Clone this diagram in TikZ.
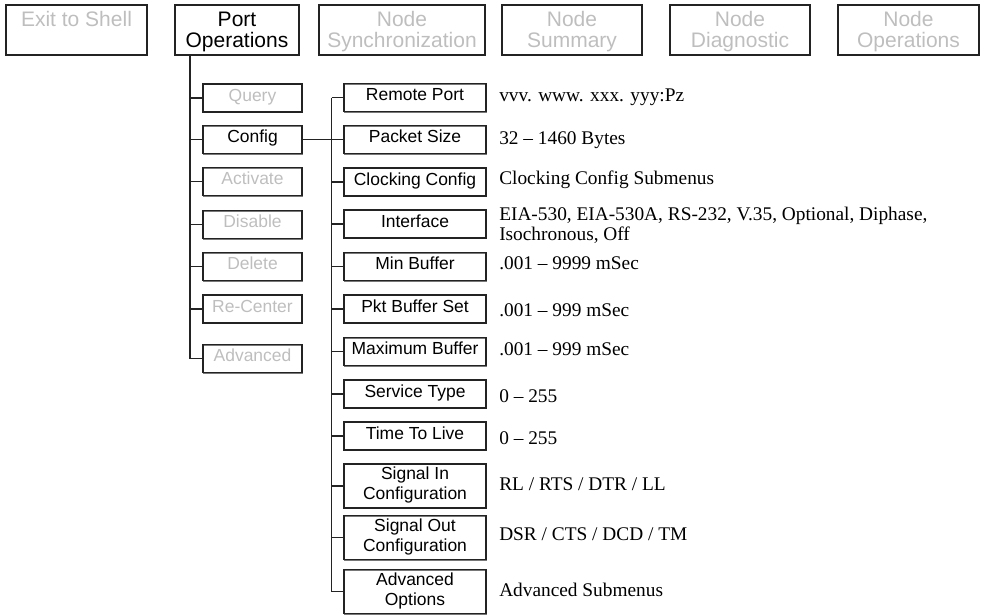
\documentclass[tikz,border=0pt]{standalone}
\usepackage{fontspec}
\setmainfont{Liberation Serif}
\setsansfont{Liberation Sans}
\definecolor{greytext}{RGB}{190,190,190}
\definecolor{boxline}{RGB}{35,35,35}
\definecolor{boxshade}{RGB}{120,120,120}
\begin{document}
\begin{tikzpicture}[x=0.75pt,y=-0.75pt,
  box/.style={draw=boxline, line width=0.9pt, inner sep=0pt, align=center,
    preaction={draw=boxshade, line width=0.9pt, transform canvas={shift={(0.6pt,-0.6pt)}}}},
  topbox/.style={box, font=\sffamily\fontsize{15.75}{15.75}\selectfont, minimum height=37.5pt, text height=27pt, text depth=1.5pt},
  topone/.style={box, font=\sffamily\fontsize{15.75}{15.75}\selectfont, minimum height=37.5pt, text height=11.3pt, text depth=17.25pt},
  subbox/.style={box, font=\sffamily\fontsize{13.1}{15}\selectfont, minimum width=74.25pt, minimum height=21pt, text height=9.4pt, text depth=4.5pt},
  parbox/.style={box, font=\sffamily\fontsize{13.1}{15}\selectfont, minimum width=106.5pt, minimum height=21pt, text height=9.4pt, text depth=4.5pt},
  parboxtwo/.style={box, font=\sffamily\fontsize{13.1}{15}\selectfont, minimum width=106.5pt, minimum height=33pt, text height=24.4pt, text depth=4.1pt},
  desc/.style={inner sep=0pt, anchor=base west, align=left, font=\rmfamily\fontsize{14.5}{15}\selectfont},
  dim/.style={text=greytext},
  conn/.style={draw=boxline, line width=0.8pt}
]
\useasboundingbox (0,0) rectangle (981,614);

% top menu
\node[topone, dim, minimum width=105.75pt] (exit) at (76.5,30) {Exit to Shell};
\node[topbox, minimum width=93pt] (port) at (237,30) {Port\\Operations};
\node[topbox, dim, minimum width=124.5pt] (sync) at (402,30) {Node\\Synchronization};
\node[topbox, dim, minimum width=105pt] (summ) at (572,30) {Node\\Summary};
\node[topbox, dim, minimum width=105pt] (diag) at (740,30) {Node\\Diagnostic};
\node[topbox, dim, minimum width=105.75pt] (nops) at (908.5,30) {Node\\Operations};

% second level
\node[subbox, dim] (query) at (252.5,98) {Query};
\node[subbox] (cfg) at (252.5,139.5) {Config};
\node[subbox, dim] (act) at (252.5,181.5) {Activate};
\node[subbox, dim] (dis) at (252.5,224.5) {Disable};
\node[subbox, dim] (del) at (252.5,266.5) {Delete};
\node[subbox, dim] (rec) at (252.5,309) {Re-Center};
\node[subbox, dim] (adv) at (252.5,358.5) {Advanced};

\coordinate (trunk) at (190,0);
\draw[conn] (trunk |- port.south) |- (adv.west);
\foreach \n in {query,cfg,act,dis,del,rec}
  \draw[conn] (trunk |- \n.west) -- (\n.west);

% third level
\node[parbox] (rp) at (415,97.5) {Remote Port};
\node[parbox] (ps) at (415,139.5) {Packet Size};
\node[parbox] (cc) at (415,182) {Clocking Config};
\node[parbox] (itf) at (415,224) {Interface};
\node[parbox] (minb) at (415,266.5) {Min Buffer};
\node[parbox] (pkb) at (415,309) {Pkt Buffer Set};
\node[parbox] (maxb) at (415,351.5) {Maximum Buffer};
\node[parbox] (st) at (415,394) {Service Type};
\node[parbox] (ttl) at (415,436) {Time To Live};
\node[parboxtwo] (sin) at (415,486) {Signal In\\Configuration};
\node[parboxtwo] (sout) at (415,537.5) {Signal Out\\Configuration};
\node[parboxtwo] (ao) at (415,591.5) {Advanced\\Options};

\draw[conn] (cfg.east) -- (cfg.east -| ps.west);
\coordinate (trunkb) at (331.5,0);
\draw[conn] (trunkb |- rp.west) |- (ao.west);
\foreach \n in {rp,cc,itf,minb,pkb,maxb,st,ttl,sin,sout}
  \draw[conn] (trunkb |- \n.west) -- (\n.west);

% descriptions
\node[desc] (drp) at (499,101.5) {vvv. www. xxx. yyy:Pz};
\node[desc] (dps) at (499,144) {32 – 1460 Bytes};
\node[desc] (dcc) at (499,184.5) {Clocking Config Submenus};
\node[desc] (ditf) at (499,240) {EIA-530, EIA-530A, RS-232, V.35, Optional, Diphase,\\Isochronous, Off};
\node[desc] (dminb) at (499,269.5) {.001 – 9999 mSec};
\node[desc] (dpkb) at (499,316.5) {.001 – 999 mSec};
\node[desc] (dmaxb) at (499,355) {.001 – 999 mSec};
\node[desc] (dst) at (499,402.5) {0 – 255};
\node[desc] (dttl) at (499,444) {0 – 255};
\node[desc] (dsin) at (499,490) {RL / RTS / DTR / LL};
\node[desc] (dsout) at (499,540) {DSR / CTS / DCD / TM};
\node[desc] (dao) at (499,596.5) {Advanced Submenus};
\end{tikzpicture}
\end{document}
